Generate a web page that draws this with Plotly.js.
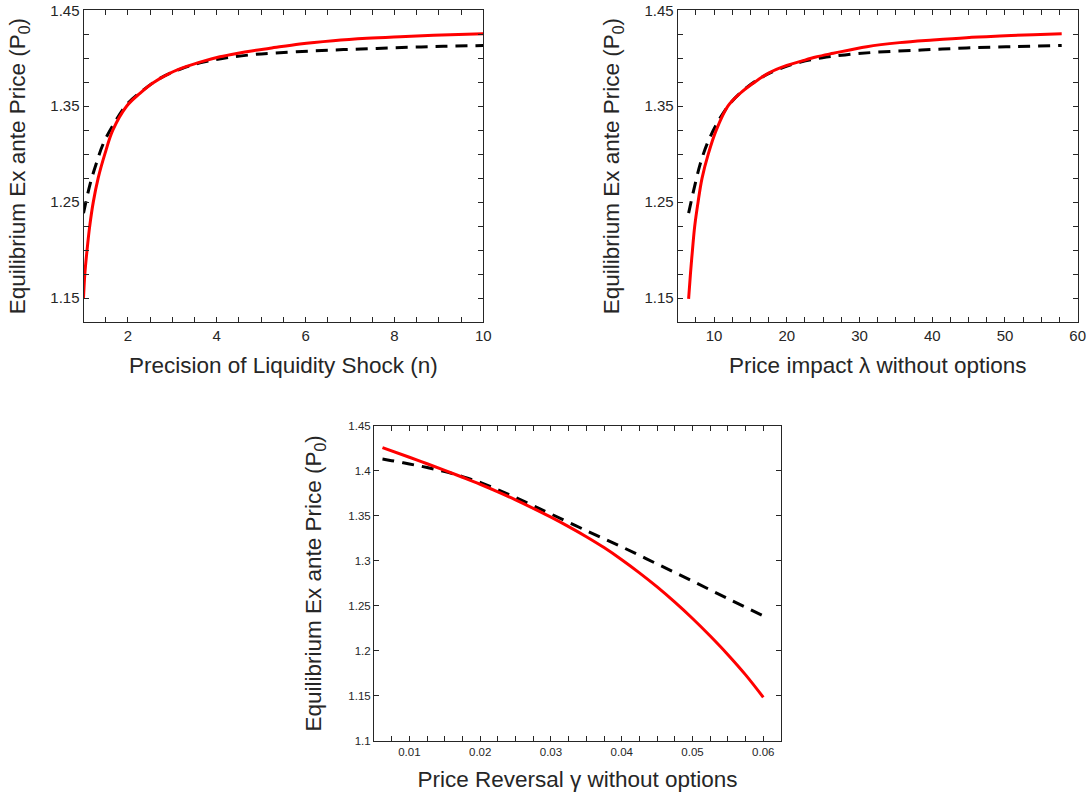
<!DOCTYPE html>
<html>
<head>
<meta charset="utf-8">
<script src="https://cdn.plot.ly/plotly-3.0.1.min.js"></script>
<style>html,body{margin:0;padding:0;background:#fff;}#chart{width:1091px;height:798px;}</style>
</head>
<body>
<div id="chart"></div>
<script>
// Panel 1: Precision of liquidity shock (n)
const nRed = [1, 1.03, 1.08, 1.14, 1.22, 1.33, 1.48, 1.66, 1.97, 2.27, 2.57, 2.95, 3.32, 3.70, 4.07, 4.45, 4.82, 5.2, 5.87, 6.62, 7.38, 8.13, 8.88, 10];
const pRedN = [1.15, 1.175, 1.2, 1.225, 1.25, 1.275, 1.3, 1.325, 1.35, 1.3635, 1.3745, 1.3845, 1.3915, 1.397, 1.4015, 1.405, 1.4079, 1.4104, 1.4149, 1.4183, 1.4208, 1.4225, 1.424, 1.4256];
const nBlack = [1, 1.15, 1.29, 1.45, 1.7, 1.97, 2.35, 2.72, 3.2, 3.7, 4.22, 4.75, 5.31, 6.1, 6.85, 7.6, 8.35, 9.1, 10];
const pBlackN = [1.2385, 1.269, 1.2906, 1.3115, 1.333, 1.3515, 1.367, 1.379, 1.389, 1.396, 1.4005, 1.4035, 1.4055, 1.4075, 1.409, 1.4103, 1.4115, 1.4124, 1.4133];

// Panel 2: Price impact lambda without options
const lamRed = [6.5, 6.75, 7.03, 7.34, 7.8, 8.35, 9.2, 10.3, 11.9, 13.6, 15.3, 17.5, 20, 22.0, 24.0, 26.4, 31.0, 35.5, 40.1, 44.7, 49.3, 53.9, 57.8];
const pRedL = [1.149, 1.175, 1.2, 1.225, 1.25, 1.275, 1.3, 1.325, 1.35, 1.3635, 1.3735, 1.3845, 1.3925, 1.397, 1.4013, 1.4052, 1.4121, 1.4163, 1.4191, 1.4215, 1.4232, 1.4246, 1.4256];
const lamBlack = [6.5, 7.34, 8.13, 9.09, 10.47, 12.06, 14.0, 16.3, 19.0, 21.9, 24.9, 28.0, 32.1, 38.5, 44.7, 51.2, 57.8];
const pBlackL = [1.2385, 1.267, 1.2906, 1.3115, 1.333, 1.3515, 1.3665, 1.379, 1.389, 1.396, 1.4005, 1.4035, 1.4062, 1.4086, 1.4107, 1.4121, 1.4133];

// Panel 3: Price reversal gamma without options
const gamRed = [0.0062, 0.01, 0.0125, 0.015, 0.0175, 0.02, 0.0225, 0.025, 0.0275, 0.03, 0.0325, 0.035, 0.0375, 0.04, 0.0425, 0.045, 0.0475, 0.05, 0.0525, 0.055, 0.0575, 0.06];
const pRedG = [1.4256, 1.4150, 1.4078, 1.4004, 1.3928, 1.3850, 1.3766, 1.3677, 1.3583, 1.3485, 1.3380, 1.3268, 1.3147, 1.3012, 1.2866, 1.2710, 1.2541, 1.2360, 1.2165, 1.1958, 1.1734, 1.1485];
const gamBlack = [0.0062, 0.0075, 0.01, 0.0125, 0.015, 0.0175, 0.02, 0.0225, 0.025, 0.0275, 0.03, 0.035, 0.04, 0.045, 0.05, 0.055, 0.06];
const pBlackG = [1.4130, 1.4112, 1.4075, 1.4036, 1.3990, 1.3935, 1.3870, 1.3790, 1.3703, 1.3612, 1.3520, 1.3335, 1.3155, 1.2965, 1.2775, 1.2580, 1.2388];

const xTitles = ["Precision of Liquidity Shock (n)", "Price impact λ without options", "Price Reversal γ without options"];
const yTitle = "Equilibrium Ex ante Price (P<sub>0</sub>)";

const AX = '#262626';
const FONT = 'Arial, "Liberation Sans", Helvetica, sans-serif';
const redLine = {color: '#ff0000', width: 3, shape: 'spline', smoothing: 1};
const blackLine = {color: '#000000', width: 3, dash: '12px,8px', shape: 'spline', smoothing: 1};

const traces = [
  {x: nBlack, y: pBlackN, xaxis: 'x', yaxis: 'y', mode: 'lines', line: blackLine, showlegend: false},
  {x: nRed, y: pRedN, xaxis: 'x', yaxis: 'y', mode: 'lines', line: redLine, showlegend: false},
  {x: lamBlack, y: pBlackL, xaxis: 'x2', yaxis: 'y2', mode: 'lines', line: blackLine, showlegend: false},
  {x: lamRed, y: pRedL, xaxis: 'x2', yaxis: 'y2', mode: 'lines', line: redLine, showlegend: false},
  {x: gamBlack, y: pBlackG, xaxis: 'x3', yaxis: 'y3', mode: 'lines', line: blackLine, showlegend: false},
  {x: gamRed, y: pRedG, xaxis: 'x3', yaxis: 'y3', mode: 'lines', line: redLine, showlegend: false}
];

const TF = {family: FONT, size: 22.5, color: AX};

function axis(opts) {
  return Object.assign({
    showline: true, linecolor: AX, linewidth: 1, mirror: 'allticks',
    ticks: 'inside', ticklen: 5, tickcolor: AX, tickwidth: 1,
    showgrid: false, zeroline: false,
    tickfont: {family: FONT, size: 15, color: AX}
  }, opts);
}

const W = 1091, H = 798;
const fx = (a, b) => [a / W, b / W];
const fy = (top, bottom) => [1 - bottom / H, 1 - top / H];

const layout = {
  width: W, height: H,
  margin: {l: 0, r: 0, t: 0, b: 0},
  paper_bgcolor: '#ffffff', plot_bgcolor: '#ffffff',
  font: {family: FONT, color: AX},
  xaxis: axis({domain: fx(83.5, 483.3), anchor: 'y', range: [1, 10], tick0: 0, dtick: 2,
    minor: {dtick: 0.5, tick0: 0, ticks: 'inside', ticklen: 5, tickcolor: AX},
    title: {text: xTitles[0], font: TF, standoff: 14}}),
  yaxis: axis({domain: fy(10.3, 322), anchor: 'x', range: [1.125, 1.45], tick0: 1.15, dtick: 0.1,
    minor: {dtick: 0.025, tick0: 1.15, ticks: 'inside', ticklen: 5, tickcolor: AX},
    title: {text: yTitle, font: TF, standoff: 18}}),
  xaxis2: axis({domain: fx(677.7, 1077.7), anchor: 'y2', range: [5, 60], tick0: 0, dtick: 10,
    minor: {dtick: 2.5, tick0: 0, ticks: 'inside', ticklen: 5, tickcolor: AX},
    title: {text: xTitles[1], font: TF, standoff: 14}}),
  yaxis2: axis({domain: fy(10.3, 322), anchor: 'x2', range: [1.125, 1.45], tick0: 1.15, dtick: 0.1,
    minor: {dtick: 0.025, tick0: 1.15, ticks: 'inside', ticklen: 5, tickcolor: AX},
    title: {text: yTitle, font: TF, standoff: 18}}),
  xaxis3: axis({domain: fx(374, 781), anchor: 'y3', range: [0.005, 0.0625], tick0: 0, dtick: 0.01,
    minor: {dtick: 0.0025, tick0: 0, ticks: 'inside', ticklen: 5, tickcolor: AX},
    tickfont: {family: FONT, size: 11.5, color: AX},
    title: {text: xTitles[2], font: TF, standoff: 14}}),
  yaxis3: axis({domain: fy(425.7, 741), anchor: 'x3', range: [1.1, 1.45], tick0: 1.1, dtick: 0.05,
    tickfont: {family: FONT, size: 11.5, color: AX},
    title: {text: yTitle, font: TF, standoff: 20}})
};

Plotly.newPlot('chart', traces, layout, {staticPlot: true, displayModeBar: false});
</script>
</body>
</html>
